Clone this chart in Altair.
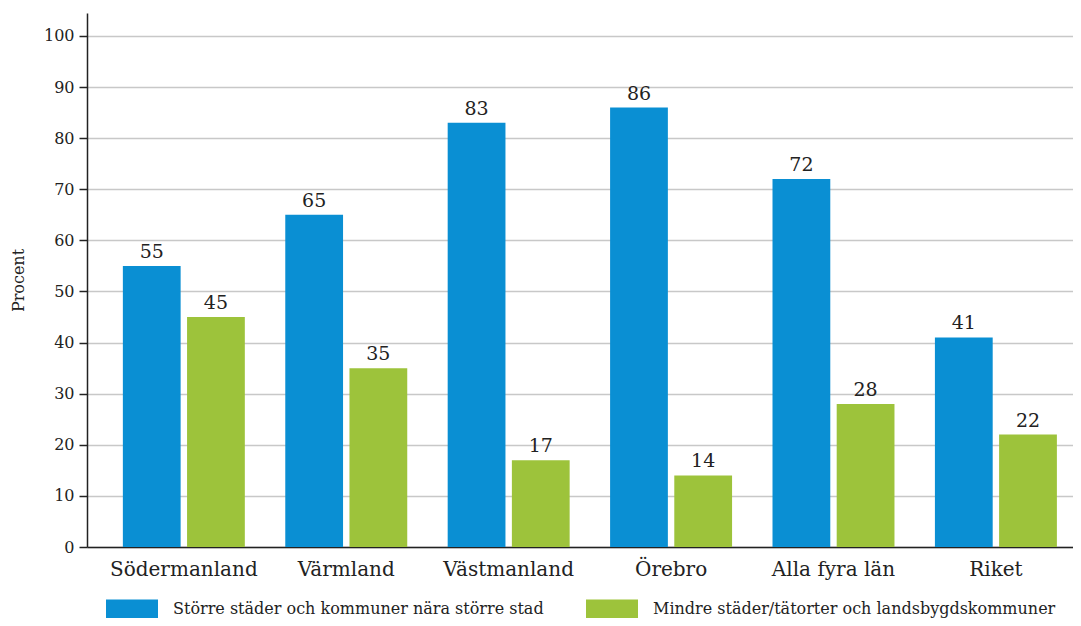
import altair as alt
import pandas as pd

regions = ["Södermanland", "Värmland", "Västmanland", "Örebro", "Alla fyra län", "Riket"]
storre = [55, 65, 83, 86, 72, 41]
mindre = [45, 35, 17, 14, 28, 22]
series = ["Större städer och kommuner nära större stad",
          "Mindre städer/tätorter och landsbygdskommuner"]
colors = ["#0a8fd3", "#9dc33b"]
y_ticks = list(range(0, 101, 10))

rows = []
for r, a, b in zip(regions, storre, mindre):
    rows.append({"region": r, "serie": series[0], "value": a})
    rows.append({"region": r, "serie": series[1], "value": b})
df = pd.DataFrame(rows)

FONT = "DejaVu Serif"

x = alt.X("region:N", sort=regions, title=None,
          scale=alt.Scale(paddingInner=0.249, paddingOuter=0.16, align=0.69),
          axis=alt.Axis(labelAngle=0, labelFontSize=20, labelFont=FONT, labelColor="#222",
                        labelPadding=12, ticks=False, domainColor="#222", domainWidth=1.5,
                        labelLimit=300))
xo = alt.XOffset("serie:N", sort=series,
                 scale=alt.Scale(paddingInner=0.1, paddingOuter=0))
y = alt.Y("value:Q", title="Procent",
          scale=alt.Scale(domain=[0, 104.5], nice=False, zero=True),
          axis=alt.Axis(values=y_ticks, labelFontSize=16, labelFont=FONT, labelColor="#222",
                        tickColor="#222", tickSize=8, tickWidth=1.5, labelPadding=5,
                        domainColor="#222", domainWidth=1.5,
                        gridColor="#c8c8c8", gridWidth=1.5,
                        titleFont=FONT, titleFontSize=16, titleFontWeight="normal",
                        titleColor="#222", titleAngle=270, titleBaseline="middle",
                        titleX=-69, titleY=267))

color = alt.Color("serie:N", sort=series,
                  scale=alt.Scale(domain=series, range=colors),
                  legend=alt.Legend(title=None, orient="none", direction="horizontal",
                                    legendX=19, legendY=570,
                                    symbolType="M-1,-0.385H1V0.385H-1Z", symbolSize=2704,
                                    symbolStrokeWidth=0, symbolOpacity=1,
                                    labelFont=FONT, labelFontSize=16, labelColor="#222",
                                    labelOffset=15, columnPadding=42, labelLimit=600,
                                    padding=0))

bars = alt.Chart(df).mark_bar().encode(x=x, xOffset=xo, y=y, color=color)
labels = alt.Chart(df).mark_text(font=FONT, fontSize=19, color="#222",
                                 baseline="alphabetic", dy=-8).encode(
    x=alt.X("region:N", sort=regions), xOffset=alt.XOffset("serie:N", sort=series),
    y="value:Q", text=alt.Text("value:Q", format="d"))

chart = (bars + labels).properties(
    width=986, height=534,
    autosize=alt.AutoSizeParams(type="none"),
    padding={"left": 79, "top": 5, "right": 0, "bottom": 71},
    background="white",
).configure_view(stroke=None)

chart.save("out.html", embed_options={"renderer": "svg", "actions": False})
